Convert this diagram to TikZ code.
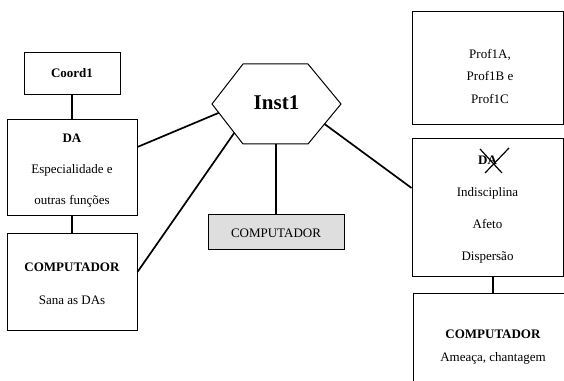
\documentclass[tikz,border=0pt]{standalone}
\usepackage{fontspec}
\setmainfont{Liberation Serif}
\usetikzlibrary{calc}

\begin{document}
\begin{tikzpicture}[x=1pt,y=1pt]
\tikzstyle{every node}+=[inner sep=0pt]
\tikzstyle{box}=[draw=black, line width=0.9pt, align=center, font=\fontsize{13}{31}\selectfont]
\tikzstyle{link}=[black, line width=1.7pt]
\useasboundingbox (0,0) rectangle (564,380);
\clip (0,0) rectangle (564,380);
\node [box, minimum width=96, minimum height=42, font=\fontsize{13}{16}\selectfont\bfseries] (coord) at (72,307) {Coord1};
\node [box, minimum width=130, minimum height=96] (da) at (72,213) {\rule{0pt}{16.6pt}\textbf{DA}\\Especialidade e\\outras funções};
\node [box, minimum width=130, minimum height=97, font=\fontsize{13}{33}\selectfont] (sana) at (72,98.5) {\rule{0pt}{12.6pt}\textbf{COMPUTADOR}\\Sana as DAs};
\coordinate (hw) at (212,276);
\coordinate (hnw) at (243,316);
\coordinate (hne) at (308,316);
\coordinate (he) at (341,276);
\coordinate (hse) at (308,236);
\coordinate (hsw) at (243,236);
\draw [black, line width=1pt] (hw) -- (hnw) -- (hne) -- (he) -- (hse) -- (hsw) -- cycle;
\node [font=\fontsize{21}{25}\selectfont\bfseries] (inst) at (276.5,277) {Inst1};
\node [box, fill=black!13, minimum width=136, minimum height=35, text height=11.6pt, font=\fontsize{13}{16}\selectfont] (comp) at (276,148.5) {COMPUTADOR};
\node [box, minimum width=151, minimum height=113] (prof) at (487.5,312.5) {};
\node [align=center, font=\fontsize{13}{22.5}\selectfont] (proftxt) at (490,304) {Prof1A,\\Prof1B e\\Prof1C};
\node [box, minimum width=151, minimum height=138, font=\fontsize{13}{32}\selectfont] (aluno) at (487.5,173) {\rule{0pt}{14.6pt}\textbf{DA}\\Indisciplina\\Afeto\\Dispersão};
\node [box, minimum width=160, minimum height=106, font=\fontsize{13}{23}\selectfont] (ameaca) at (493,34) {\rule{0pt}{10.6pt}\textbf{COMPUTADOR}\\Ameaça, chantagem};
% ligacoes
\draw [link] (coord) -- (da);
\draw [link] (da) -- (sana);
\draw [link] ([yshift=20]da.east) -- ($(hw)!0.22!(hsw)$);
\draw [link] ([yshift=9.5]sana.east) -- ($(hw)!0.72!(hsw)$);
\draw [link] (comp.north) -- (comp.north |- hsw);
\draw [link] ($(he)!0.5!(hse)$) -- ([yshift=19]aluno.west);
\draw [link] (ameaca.north) -- (ameaca.north |- aluno.south);
% DA riscado
\draw [black, line width=1.2pt] (480,231) -- (502,207);
\draw [black, line width=1.2pt] (509,232) -- (485,207);
\end{tikzpicture}
\end{document}
